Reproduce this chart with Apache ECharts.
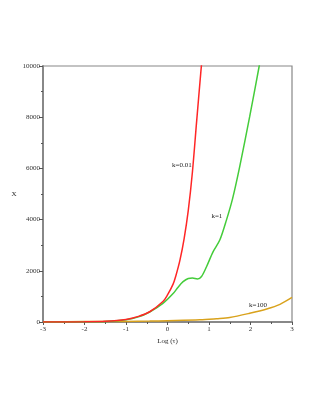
<!DOCTYPE html>
<html><head><meta charset="utf-8">
<script src="https://cdn.jsdelivr.net/npm/echarts@6/dist/echarts.min.js"></script>
<style>html,body{margin:0;padding:0;background:#fff}#c{width:315px;height:407px}</style>
</head><body><div id="c"></div>
<script>
// Data
const redX   = [-3, -2.5, -2, -1.5, -1, -0.7, -0.43, -0.11, 0, 0.135, 0.2, 0.3, 0.4, 0.5, 0.6, 0.7, 0.8, 0.86];
const redY   = [0, 2, 6, 25, 100, 220, 400, 800, 1060, 1480, 1800, 2420, 3250, 4350, 5850, 7800, 9700, 10800];
const greenX = [-3, -2.5, -2, -1.5, -1, -0.7, -0.43, -0.11, 0.135, 0.25, 0.376, 0.5, 0.6, 0.72, 0.82, 0.94, 1.1, 1.26, 1.42, 1.57, 1.74, 1.98, 2.21, 2.3];
const greenY = [0, 2, 6, 24, 92, 200, 390, 725, 1110, 1350, 1575, 1700, 1715, 1680, 1780, 2160, 2750, 3200, 3980, 4830, 6070, 8020, 10000, 10800];
const yelX   = [-3, -2, -1, -0.43, 0, 0.78, 1.18, 1.5, 1.98, 2.39, 2.71, 3];
const yelY   = [12, 16, 24, 35, 50, 85, 130, 175, 340, 508, 690, 960];
const xTicks = [-3, -2, -1, 0, 1, 2, 3];
const yTicks = [0, 2000, 4000, 6000, 8000, 10000];
const labels = [
  {text: 'k=0.01', x: 0.345, y: 6130},
  {text: 'k=1', x: 1.19, y: 4140},
  {text: 'k=100', x: 2.18, y: 660}
];

const pairs = (xs, ys) => xs.map((x, i) => [x, ys[i]]);
const font = 'Liberation Serif';
const chart = echarts.init(document.getElementById('c'));
const mkLabel = (l) => ({
  coord: [l.x, l.y], value: l.text, symbol: 'circle', symbolSize: 1,
  itemStyle: {color: 'rgba(0,0,0,0)'},
  label: {show: true, formatter: l.text, fontFamily: font, fontSize: 7, color: '#222', position: 'inside'}
});
chart.setOption({
  animation: false,
  backgroundColor: '#fff',
  grid: {left: 43, right: 23, top: 66, bottom: 85, show: true, borderColor: '#888', borderWidth: 1.2, backgroundColor: 'transparent'},
  xAxis: {
    type: 'value', min: xTicks[0], max: xTicks[xTicks.length - 1], interval: 1,
    name: 'Log (τ)', nameLocation: 'middle', nameGap: 14,
    nameTextStyle: {fontFamily: font, fontSize: 7, color: '#222'},
    axisLine: {onZero: false, lineStyle: {color: '#888', width: 2}},
    axisTick: {length: 3, lineStyle: {color: '#555', width: 1}},
    minorTick: {show: true, splitNumber: 2, length: 2, lineStyle: {color: '#555'}},
    splitLine: {show: false},
    axisLabel: {fontFamily: font, fontSize: 7, color: '#333', margin: 4, formatter: v => String(v)}
  },
  yAxis: {
    type: 'value', min: yTicks[0], max: yTicks[yTicks.length - 1], interval: 2000,
    name: 'X', nameLocation: 'middle', nameGap: 23, nameRotate: 0,
    nameTextStyle: {fontFamily: font, fontSize: 7, color: '#222'},
    axisLine: {show: true, onZero: false, lineStyle: {color: '#888', width: 2}},
    axisTick: {show: true, length: 4, lineStyle: {color: '#555', width: 1}},
    minorTick: {show: true, splitNumber: 2, length: 2, lineStyle: {color: '#555'}},
    splitLine: {show: false},
    axisLabel: {fontFamily: font, fontSize: 7, color: '#333', margin: 3, formatter: v => String(v)}
  },
  series: [
    {type: 'line', name: 'k=100', data: pairs(yelX, yelY), smooth: 0.3, showSymbol: false, clip: true,
      lineStyle: {color: '#d9a21c', width: 1.5}, z: 3,
      markPoint: {data: [mkLabel(labels[2])]}},
    {type: 'line', name: 'k=1', data: pairs(greenX, greenY), smooth: 0.3, showSymbol: false, clip: true,
      lineStyle: {color: '#44cc3a', width: 1.5}, z: 4,
      markPoint: {data: [mkLabel(labels[1])]}},
    {type: 'line', name: 'k=0.01', data: pairs(redX, redY), smooth: 0.3, showSymbol: false, clip: true,
      lineStyle: {color: '#ff2626', width: 1.5}, z: 5,
      markPoint: {data: [mkLabel(labels[0])]}}
  ]
});
</script></body></html>
